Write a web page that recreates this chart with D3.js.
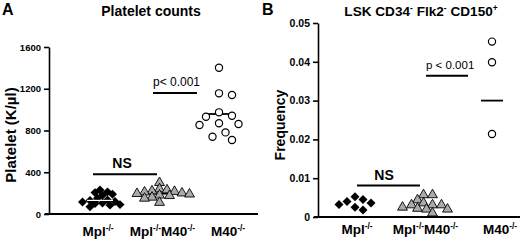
<!DOCTYPE html>
<html><head><meta charset="utf-8">
<script src="https://cdn.jsdelivr.net/npm/d3@7"></script>
<style>body{margin:0;background:#fff}svg{display:block}text{font-family:"Liberation Sans",Arial,sans-serif}</style>
</head><body><svg id="c" width="520" height="240"></svg>
<script>
// ---- data ----
const groups = ["Mpl", "MplM40", "M40"];
const groupLabels = [[["Mpl",0],["-/-",1]], [["Mpl",0],["-/-",1],["M40",0],["-/-",1]], [["M40",0],["-/-",1]]];
const plateletTicks = [0, 400, 800, 1200, 1600];
const plateletMpl = [230, 212, 205, 190, 180, 150, 135, 130, 120, 115, 105, 100, 90, 85, 70];
const plateletMplM40 = [300, 240, 230, 220, 215, 210, 200, 195, 190, 180, 175, 160, 150, 110];
const plateletM40 = [1401, 1156, 1140, 974, 942, 932, 869, 862, 852, 782, 740, 709];
const plateletMedian = [130, 195, 958];
const freqTicks = [0, 0.01, 0.02, 0.03, 0.04, 0.05];
const freqMpl = [0.0052, 0.0045, 0.0040, 0.0036, 0.0032, 0.0025, 0.0018];
const freqMplM40 = [0.0057, 0.0057, 0.0044, 0.0036, 0.0031, 0.0031, 0.0031, 0.0025, 0.0022, 0.0020, 0.0020, 0.0010];
const freqM40 = [0.0452, 0.0399, 0.0214];
const freqMedian = [null, null, 0.030];
const titleA = [["Platelet counts",0]];
const titleB = [["LSK CD34",0],["-",1],[" Flk2",0],["-",1],[" CD150",0],["+",1]];

const svg = d3.select("#c");
const F = '"Liberation Sans",Arial,sans-serif';

function richText(g, parts, x, y, size, anchor, weight) {
  const t = g.append("text").attr("x", x).attr("y", y).attr("text-anchor", anchor)
    .attr("font-size", size).attr("font-weight", weight || "bold");
  parts.forEach(([s, sup]) => {
    t.append("tspan").text(s).attr("font-size", sup ? size * 0.62 : size)
      .attr("baseline-shift", sup ? "super" : null);
  });
  return t;
}

function swarm(vals, y, cx, minDist, step) {
  const placed = [];
  const sorted = vals.slice().sort((a, b) => b - a);
  sorted.forEach(v => {
    const py = y(v);
    for (let k = 0; k < 60; k++) {
      const off = (k % 2 ? 1 : -1) * Math.ceil(k / 2) * step;
      const px = cx + off;
      if (placed.every(p => Math.hypot(p.x - px, p.y - py) >= minDist)) { placed.push({x: px, y: py, v}); break; }
    }
  });
  return placed;
}

function panel(cfg) {
  const g = svg.append("g");
  const y = d3.scaleLinear().domain(cfg.domain).range([cfg.y0, cfg.y1]);
  const x = d3.scalePoint().domain(groups).range(cfg.xr);
  const ya = d3.axisLeft(y).tickValues(cfg.ticks).tickSize(5).tickSizeOuter(0).tickPadding(3).tickFormat(cfg.fmt);
  const yg = g.append("g").attr("transform", `translate(${cfg.ax},0)`).call(ya);
  yg.selectAll("text").attr("font-size", cfg.tickFont).attr("font-weight", "bold").attr("font-family", F).attr("fill", "#000");
  yg.selectAll("line,path").attr("stroke", "#000").attr("stroke-width", 1.6);
  g.append("line").attr("x1", cfg.ax - 4).attr("x2", cfg.axEnd).attr("y1", cfg.y0).attr("y2", cfg.y0)
    .attr("stroke", "#000").attr("stroke-width", 1.8);
  groups.forEach((gr, i) => richText(g, groupLabels[i], x(gr) + cfg.labOff[i], cfg.labY, 13.5, "middle"));
  g.append("text").attr("x", cfg.letterX).attr("y", 15).attr("font-size", 16).attr("font-weight", "bold").text(cfg.letter);
  richText(g, cfg.title, cfg.titleX, 16, cfg.titleSize, "middle");
  g.append("text").attr("transform", `translate(${cfg.ylabX},${cfg.ylabY}) rotate(-90)`).attr("text-anchor", "middle")
    .attr("font-size", cfg.ylabSize).attr("font-weight", "bold").text(cfg.ylab);
  cfg.medians.forEach((m, i) => {
    if (m == null || i === 0) return;
    g.append("line").attr("x1", x(groups[i]) - 11).attr("x2", x(groups[i]) + 11).attr("y1", y(m)).attr("y2", y(m))
      .attr("stroke", "#000").attr("stroke-width", 1.8);
  });
  const sq = d3.symbol(d3.symbolSquare, 40)();
  swarm(cfg.series[0], y, x(groups[0]), cfg.sw[0][0], cfg.sw[0][1]).forEach(p => {
    g.append("path").attr("d", sq).attr("transform", `translate(${p.x},${p.y}) rotate(45)`).attr("fill", "#000");
  });
  if (cfg.medians[0] != null) {
    g.append("line").attr("x1", x(groups[0]) - 13).attr("x2", x(groups[0]) + 13).attr("y1", y(cfg.medians[0])).attr("y2", y(cfg.medians[0]))
      .attr("stroke", "#fff").attr("stroke-width", 1.2);
  }
  const tri = d3.symbol(d3.symbolTriangle, 42)();
  swarm(cfg.series[1], y, x(groups[1]), cfg.sw[1][0], cfg.sw[1][1]).forEach(p => {
    g.append("path").attr("d", tri).attr("transform", `translate(${p.x},${p.y})`)
      .attr("fill", "#aaa").attr("stroke", "#000").attr("stroke-width", 0.9);
  });
  swarm(cfg.series[2], y, x(groups[2]), cfg.sw[2][0], cfg.sw[2][1]).forEach(p => {
    g.append("circle").attr("cx", p.x).attr("cy", p.y).attr("r", 3.6)
      .attr("fill", "#fff").attr("stroke", "#000").attr("stroke-width", 1.2);
  });
  cfg.sig.forEach(s => {
    g.append("line").attr("x1", s.x1).attr("x2", s.x2).attr("y1", y(s.v)).attr("y2", y(s.v)).attr("stroke", "#000").attr("stroke-width", 2);
    g.append("text").attr("x", s.tx).attr("y", y(s.v) - s.dy).attr("text-anchor", s.anchor).attr("font-size", s.size)
      .attr("font-weight", s.bold ? "bold" : "normal").text(s.text);
  });
}

panel({
  domain: [0, 1600], y0: 214, y1: 47, ax: 49, axEnd: 258, xr: [100, 219], ticks: plateletTicks, fmt: d3.format("d"),
  tickFont: 9.5, labY: 236, labOff: [-2, 3, 9], letter: "A", letterX: 2, title: titleA, titleX: 151, titleSize: 14,
  ylab: "Platelet (K/µl)", ylabX: 16, ylabY: 135, ylabSize: 15,
  series: [plateletMpl, plateletMplM40, plateletM40], medians: plateletMedian,
  sw: [[5.5, 2.5], [6, 2.5], [10, 6.5]],
  sig: [
    {x1: 93, x2: 157, v: 380, tx: 122, dy: 6, anchor: "middle", size: 14, bold: true, text: "NS"},
    {x1: 153, x2: 197, v: 1160, tx: 153, dy: 7, anchor: "start", size: 12, bold: false, text: "p< 0.001"}
  ]
});
panel({
  domain: [0, 0.05], y0: 217, y1: 23, ax: 318, axEnd: 520, xr: [355, 492], ticks: freqTicks, fmt: d => d === 0 ? "0" : d3.format(".2f")(d),
  tickFont: 10.5, labY: 234, labOff: [2, 2, 8], letter: "B", letterX: 262, title: titleB, titleX: 421, titleSize: 13.6,
  ylab: "Frequency", ylabX: 285, ylabY: 125, ylabSize: 14,
  series: [freqMpl, freqMplM40, freqM40], medians: freqMedian,
  sw: [[8, 4], [6.5, 3], [10, 6.5]],
  sig: [
    {x1: 357, x2: 420, v: 0.0081, tx: 384, dy: 6, anchor: "middle", size: 14, bold: true, text: "NS"},
    {x1: 426, x2: 468, v: 0.0364, tx: 426, dy: 7, anchor: "start", size: 11.5, bold: false, text: "p < 0.001"}
  ]
});
</script></body></html>
